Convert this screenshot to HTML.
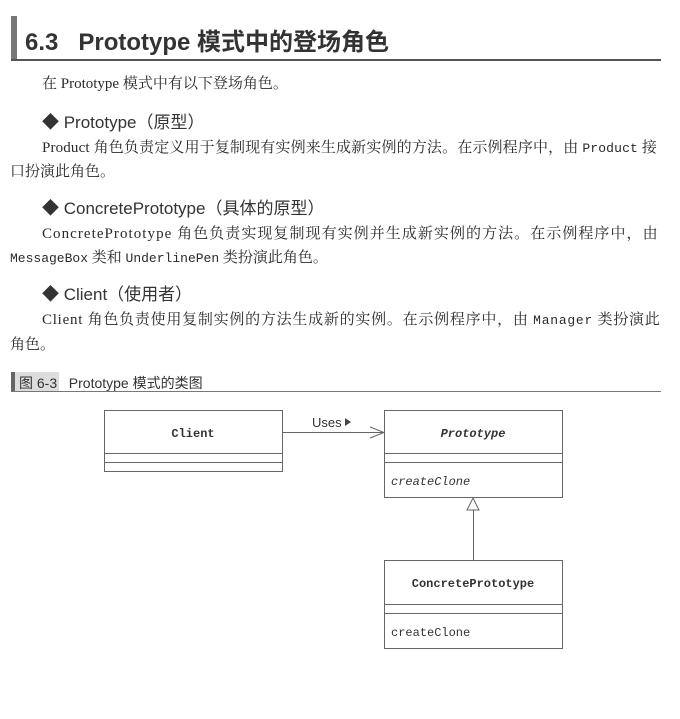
<!DOCTYPE html>
<html><head><meta charset="utf-8"><style>
body{margin:0;width:680px;height:719px;background:#fff;position:relative;overflow:hidden;color:#2a2a2a}
.a{position:absolute;white-space:nowrap}
.s{font-family:"Liberation Serif","Noto Serif CJK SC",serif;font-size:15px}
.h{font-family:"Liberation Sans","Noto Sans CJK SC",sans-serif;font-size:17px;color:#333}
.m{font-family:"Liberation Mono",monospace;font-size:13px}
</style></head><body>
<div class="a" style="left:11px;top:16px;width:6px;height:44px;background:#777"></div>
<div class="a" style="left:11px;top:59px;width:650px;height:2px;background:#555"></div>
<div class="a" style="left:25px;top:22px;font:bold 24px 'Liberation Sans','Noto Sans CJK SC',sans-serif;color:#333">6.3&nbsp;&nbsp;&nbsp;Prototype 模式中的登场角色</div>

<div class="a s" style="left:42px;top:72px">在 Prototype 模式中有以下登场角色。</div>
<div class="a h" style="left:42px;top:108px">◆ Prototype（原型）</div>
<div class="a s" style="left:42px;top:136px;letter-spacing:0.15px">Product 角色负责定义用于复制现有实例来生成新实例的方法。在示例程序中，由 <span class="m">Product</span> 接</div>
<div class="a s" style="left:10px;top:160px">口扮演此角色。</div>
<div class="a h" style="left:42px;top:194px">◆ ConcretePrototype（具体的原型）</div>
<div class="a s" style="left:42px;top:222px;letter-spacing:1.05px">ConcretePrototype 角色负责实现复制现有实例并生成新实例的方法。在示例程序中，由</div>
<div class="a s" style="left:10px;top:246px"><span class="m">MessageBox</span> 类和 <span class="m">UnderlinePen</span> 类扮演此角色。</div>
<div class="a h" style="left:42px;top:280px">◆ Client（使用者）</div>
<div class="a s" style="left:42px;top:308px;letter-spacing:0.75px">Client 角色负责使用复制实例的方法生成新的实例。在示例程序中，由 <span class="m">Manager</span> 类扮演此</div>
<div class="a s" style="left:10px;top:333px">角色。</div>

<div class="a" style="left:11px;top:372px;width:4px;height:20px;background:#666"></div>
<div class="a" style="left:15px;top:372px;width:44px;height:20px;background:#ddd"></div>
<div class="a" style="left:19px;top:373px;font:14px 'Liberation Sans','Noto Sans CJK SC',sans-serif;color:#333">图 6-3&nbsp;&nbsp;&nbsp;Prototype 模式的类图</div>
<div class="a" style="left:11px;top:391px;width:650px;height:1px;background:#777"></div>

<svg class="a" style="left:0;top:0" width="680" height="719">
<g fill="none" stroke="#666" stroke-width="1">
<rect x="104.5" y="410.5" width="178" height="61"/>
<line x1="104" y1="453.5" x2="283" y2="453.5"/>
<line x1="104" y1="462.5" x2="283" y2="462.5"/>
<rect x="384.5" y="410.5" width="178" height="87"/>
<line x1="384" y1="453.5" x2="563" y2="453.5"/>
<line x1="384" y1="462.5" x2="563" y2="462.5"/>
<rect x="384.5" y="560.5" width="178" height="88"/>
<line x1="384" y1="604.5" x2="563" y2="604.5"/>
<line x1="384" y1="613.5" x2="563" y2="613.5"/>
<line x1="283" y1="432.5" x2="384" y2="432.5"/>
<polyline points="370,427 384,432.5 370,438"/>
<polygon points="473,498 467,510 479,510" fill="#fff"/>
<line x1="473.5" y1="510" x2="473.5" y2="560"/>
</g>
<polygon points="345,418 351,422 345,426" fill="#444"/>
<g font-family="Liberation Mono, monospace" fill="#333" font-size="12">
<text x="193" y="437" text-anchor="middle" font-weight="bold">Client</text>
<text x="473" y="437" text-anchor="middle" font-weight="bold" font-style="italic">Prototype</text>
<text x="391" y="485" font-style="italic">createClone</text>
<text x="473" y="587" text-anchor="middle" font-weight="bold">ConcretePrototype</text>
<text x="391" y="636">createClone</text>
</g>
<text x="312" y="427" font-family="Liberation Sans, sans-serif" font-size="13" fill="#333">Uses</text>
</svg>
</body></html>
